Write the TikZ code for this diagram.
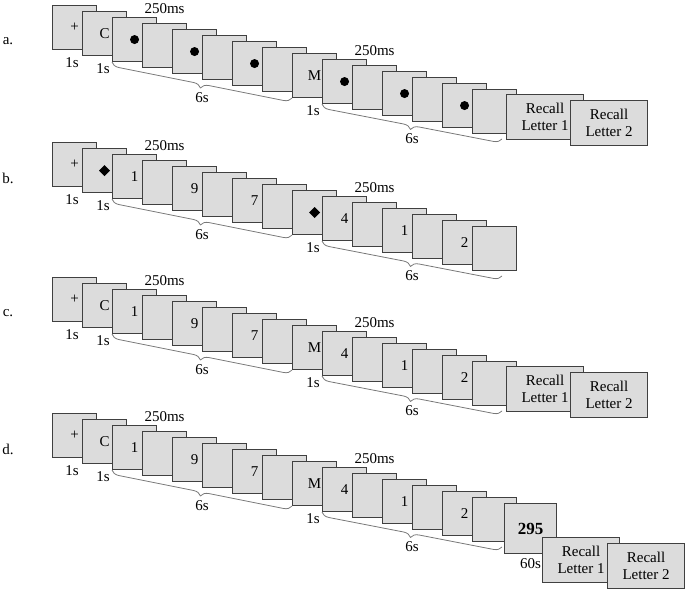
\documentclass[tikz,border=0pt]{standalone}
\usepackage{fontspec}
\setmainfont{Liberation Serif}
\usetikzlibrary{calc,decorations.pathreplacing}

\definecolor{cardgray}{RGB}{220,220,220}
\definecolor{cardline}{RGB}{64,64,64}
\definecolor{bracegray}{RGB}{120,120,120}

\newcommand\dotmark{\tikz\fill (0,0) circle (4.5pt);}
\newcommand\diamark{\tikz\fill (0,5.5pt)--(5.5pt,0)--(0,-5.5pt)--(-5.5pt,0)--cycle;}

\tikzset{
  card/.style={draw=cardline,fill=cardgray,line width=1.1pt,minimum width=44pt,
    minimum height=44pt,inner sep=0pt,anchor=north west},
  wide/.style={card,minimum width=77pt,minimum height=45pt,align=center,
    font=\fontsize{15}{17}\selectfont},
  lbl/.style={inner sep=1pt},
  brc/.style={draw=bracegray,line width=0.8pt,
    decorate,decoration={brace,mirror,amplitude=8pt}}
}

% one row of cards: letter, top y, contents of cards 0..14
\newcommand\trialrow[3]{%
  \foreach \t [count=\n from 0] in {#3}
    \node[card] (#1\n) at ({52+30*\n},{-#2-6*\n}) {\t};
  \coordinate (#1e) at (502,{-#2-90});
  \node[lbl] at (8,{-#2-36}) {#1.};
  \node[lbl,anchor=north east] at ($(#11.south west)+(-2,0)$) {1s};
  \node[lbl,anchor=north east] at ($(#12.south west)+(-1,0)$) {1s};
  \node[lbl,anchor=north east] at ($(#19.south west)+(-1,0)$) {1s};
  \node[lbl,anchor=south] at ($(#13.north)+(0,8)$) {250ms};
  \node[lbl,anchor=south] at ($(#110.north)+(0,8)$) {250ms};
  \draw[brc] (#12.south west) -- (#18.south west) node[midway,below=11pt,lbl] {6s};
  \draw[brc] (#19.south west) -- ($(#1e)+(0,-44)$) node[midway,below=11pt,lbl] {6s};
}

\begin{document}
\begin{tikzpicture}[x=1pt,y=1pt,font=\fontsize{15}{17}\selectfont]
\useasboundingbox (0,0) rectangle (685,-591);

\trialrow{a}{5}{+,C,\dotmark,{},\dotmark,{},\dotmark,{},M,\dotmark,{},\dotmark,{},\dotmark,{}}
\node[wide] (ar1) at ($(ae)+(4,1)$) {Recall\\Letter 1};
\node[wide] (ar2) at ($(ar1.north west)+(64,-6)$) {Recall\\Letter 2};

\trialrow{b}{142}{+,\diamark,1,{},9,{},7,{},\diamark,4,{},1,{},2,{}}

\trialrow{c}{277}{+,C,1,{},9,{},7,{},M,4,{},1,{},2,{}}
\node[wide] (cr1) at ($(ce)+(4,1)$) {Recall\\Letter 1};
\node[wide] (cr2) at ($(cr1.north west)+(64,-6)$) {Recall\\Letter 2};

\trialrow{d}{413}{+,C,1,{},9,{},7,{},M,4,{},1,{},2,{}}
\node[card,minimum width=52pt,minimum height=50pt,font=\fontsize{17}{19}\selectfont\bfseries]
  (dmath) at ($(de)+(2,0)$) {295};
\node[lbl,anchor=north] at ($(dmath.south)+(0,-3)$) {60s};
\node[wide] (dr1) at ($(dmath.north west)+(38,-34)$) {Recall\\Letter 1};
\node[wide] (dr2) at ($(dr1.north west)+(65,-6)$) {Recall\\Letter 2};

\end{tikzpicture}
\end{document}
